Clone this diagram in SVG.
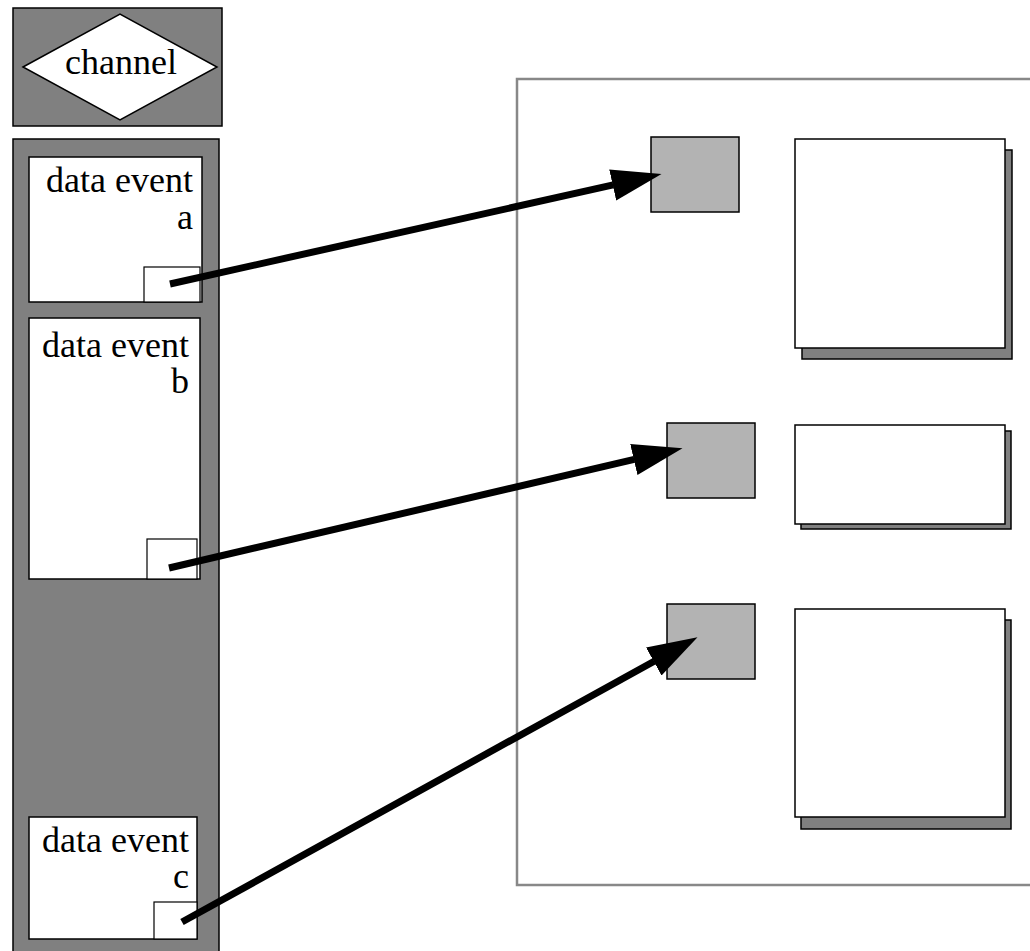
<svg xmlns="http://www.w3.org/2000/svg" width="1030" height="951" viewBox="0 0 1030 951">
<style>
.panel{fill:#808080;stroke:#000;stroke-width:1.5}
.ev{fill:#fff;stroke:#000;stroke-width:1.5}
.port{fill:#fff;stroke:#000;stroke-width:1.2}
.sq{fill:#b3b3b3;stroke:#000;stroke-width:1.5}
.card{fill:#fff;stroke:#000;stroke-width:1.5}
.shadow{fill:#808080;stroke:#000;stroke-width:1.5}
.lbl{font-family:"Liberation Serif","Times New Roman",serif;font-size:36px;fill:#000}
.conn{stroke:#000;stroke-width:7;fill:none}
</style>
<defs>
<marker id="ah" markerUnits="userSpaceOnUse" markerWidth="52" markerHeight="34" viewBox="0 -17 52 34" refX="0.5" refY="0" orient="auto">
<path d="M0,-16 L50,0 L0,16 z" fill="#000"/>
</marker>
</defs>
<rect width="1030" height="951" fill="#fff"/>
<g id="container">
<rect x="517" y="79" width="540" height="806" fill="#fff" stroke="#888" stroke-width="2.5"/>
</g>
<g id="channel">
<rect class="panel" x="13" y="8" width="209" height="118"/>
<polygon points="23,67 120,14 217,67 120,120" fill="#fff" stroke="#000" stroke-width="1.5"/>
<text class="lbl" x="121" y="74" text-anchor="middle">channel</text>
</g>
<g id="events-panel">
<rect class="panel" x="13" y="139" width="206" height="830"/>
</g>
<g id="event-a">
<rect class="ev" x="29" y="157" width="173" height="145"/>
<rect class="port" x="144" y="267" width="56" height="35"/>
<text class="lbl" x="193" y="192" text-anchor="end">data event</text>
<text class="lbl" x="193" y="229" text-anchor="end">a</text>
</g>
<g id="event-b">
<rect class="ev" x="29" y="318" width="171" height="261"/>
<rect class="port" x="147" y="539" width="50" height="40"/>
<text class="lbl" x="189" y="357" text-anchor="end">data event</text>
<text class="lbl" x="189" y="393" text-anchor="end">b</text>
</g>
<g id="event-c">
<rect class="ev" x="29" y="817" width="168" height="122"/>
<rect class="port" x="154" y="902" width="43" height="37"/>
<text class="lbl" x="189" y="852" text-anchor="end">data event</text>
<text class="lbl" x="189" y="888" text-anchor="end">c</text>
</g>
<g id="port-1"><rect class="sq" x="651" y="137" width="88" height="75"/></g>
<g id="port-2"><rect class="sq" x="667" y="423" width="88" height="75"/></g>
<g id="port-3"><rect class="sq" x="667" y="604" width="88" height="75"/></g>
<g id="card-1">
<rect class="shadow" x="802" y="150" width="210" height="209"/>
<rect class="card" x="795" y="139" width="210" height="209"/>
</g>
<g id="card-2">
<rect class="shadow" x="801" y="431" width="210" height="98"/>
<rect class="card" x="795" y="425" width="210" height="99"/>
</g>
<g id="card-3">
<rect class="shadow" x="801" y="620" width="210" height="209"/>
<rect class="card" x="795" y="609" width="210" height="208"/>
</g>
<g id="connectors">
<line class="conn" x1="170" y1="284" x2="613.2" y2="184.9" marker-end="url(#ah)"/>
<line class="conn" x1="169" y1="568" x2="634.3" y2="459.4" marker-end="url(#ah)"/>
<line class="conn" x1="182" y1="922" x2="654.2" y2="661.2" marker-end="url(#ah)"/>
</g>
</svg>
